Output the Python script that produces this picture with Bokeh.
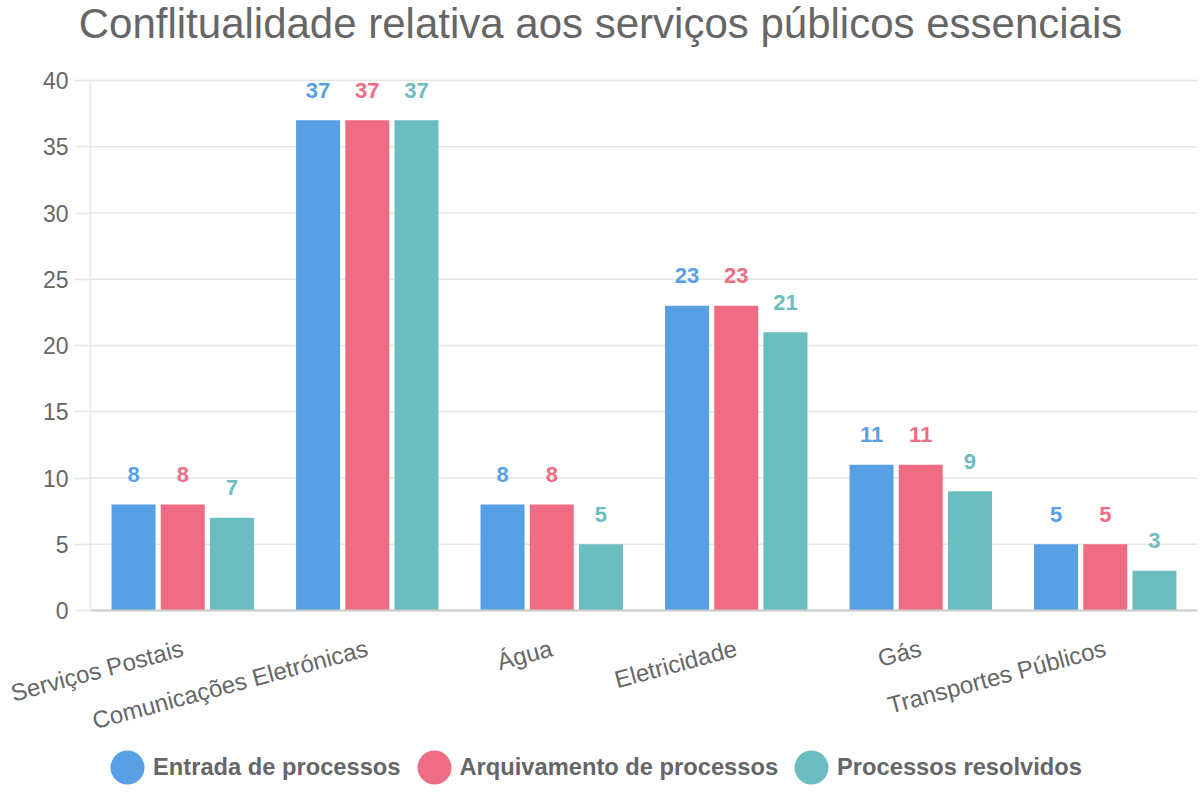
from bokeh.plotting import figure
from bokeh.models import (ColumnDataSource, Range1d, FixedTicker, Legend, LegendItem, Label,
                          LinearAxis)
from bokeh.transform import dodge
from bokeh.core.properties import value
from bokeh.embed import file_html
from bokeh.resources import INLINE
import math

title_text = "Conflitualidade relativa aos serviços públicos essenciais"
categories = ["Serviços Postais", "Comunicações Eletrónicas", "Água",
              "Eletricidade", "Gás", "Transportes Públicos"]
entrada = [8, 37, 8, 23, 11, 5]
arquivamento = [8, 37, 8, 23, 11, 5]
resolvidos = [7, 37, 5, 21, 9, 3]
series_names = ["Entrada de processos", "Arquivamento de processos", "Processos resolvidos"]
colors = ["#57A0E5", "#EE6D85", "#6CBDBF"]
y_ticks = [0, 5, 10, 15, 20, 25, 30, 35, 40]

FONT = "Liberation Sans"
GREY = "#666666"
GRID = "#e6e6e6"
W, H = 1200, 800
# pixel box of the plotting area inside the canvas
AX_L, AX_R, AX_T, AX_B = 90, 1197, 80, 610
n = len(categories)
YMAX = y_ticks[-1]
cat_px = (AX_R - AX_L) / n
px_per_unit = (AX_B - AX_T) / YMAX

x_range = Range1d(-AX_L / cat_px, n + (W - AX_R) / cat_px)
y_range = Range1d(-(H - AX_B) / px_per_unit, YMAX + AX_T / px_per_unit)

p = figure(width=W, height=H, x_range=x_range, y_range=y_range,
           output_backend="svg", toolbar_location=None, title=None,
           x_axis_location=None, y_axis_location=None,
           min_border=0, min_border_left=0, min_border_right=0, min_border_top=0, min_border_bottom=0)
p.outline_line_color = None
p.background_fill_color = "white"
p.xgrid.visible = False
p.ygrid.visible = False

xc = [i + 0.5 for i in range(n)]
src = ColumnDataSource(dict(xc=xc, cat=categories, s0=entrada, s1=arquivamento, s2=resolvidos,
                            t0=[str(v) for v in entrada], t1=[str(v) for v in arquivamento],
                            t2=[str(v) for v in resolvidos]))

# horizontal grid lines at the value ticks
p.segment(x0=0, x1=n, y0=y_ticks, y1=y_ticks, line_color=GRID, line_width=1.5)

offsets = [-0.2667, 0.0, 0.2667]
for i in range(3):
    xd = dodge("xc", offsets[i], range=p.x_range)
    p.vbar(x=xd, top="s%d" % i, width=0.2385, source=src, fill_color=colors[i], line_color=None)
    p.text(x=xd, y="s%d" % i, text="t%d" % i, source=src, text_align="center",
           text_baseline="middle", y_offset=-30, text_color=colors[i],
           text_font=value(FONT), text_font_size="22px", text_font_style="bold")

# value axis
yaxis = LinearAxis(fixed_location=0, bounds=(0, YMAX), ticker=FixedTicker(ticks=y_ticks))
yaxis.minor_tick_line_color = None
yaxis.major_tick_out = 16
yaxis.major_tick_in = 0
yaxis.major_tick_line_color = GRID
yaxis.major_tick_line_width = 1.5
yaxis.axis_line_color = GRID
yaxis.axis_line_width = 1.5
yaxis.major_label_text_font = FONT
yaxis.major_label_text_font_size = "23px"
yaxis.major_label_text_color = GREY
yaxis.major_label_standoff = 6
p.add_layout(yaxis, "left")

# category axis
xaxis = LinearAxis(fixed_location=0, bounds=(0, n), ticker=FixedTicker(ticks=xc),
                   major_label_overrides={x: c for x, c in zip(xc, categories)})
xaxis.minor_tick_line_color = None
xaxis.major_tick_line_color = None
xaxis.major_tick_out = 0
xaxis.major_tick_in = 0
xaxis.axis_line_color = "#cccccc"
xaxis.axis_line_width = 2
xaxis.major_label_orientation = 15 * math.pi / 180
xaxis.major_label_text_font = FONT
xaxis.major_label_text_font_size = "24px"
xaxis.major_label_text_color = GREY
xaxis.major_label_standoff = 37
p.add_layout(xaxis, "below")

# title
p.add_layout(Label(x=W / 2, y=H - 23, x_units="screen", y_units="screen", text=title_text,
                   text_align="center", text_baseline="middle", text_font=FONT,
                   text_font_size="42px", text_color=GREY))

# legend
items = [LegendItem(label=series_names[i], renderers=[
    p.scatter(x=[float("nan")], y=[float("nan")], size=20, marker="circle",
              fill_color=colors[i], line_color=colors[i], line_width=14)]) for i in range(3)]
legend = Legend(items=items, orientation="horizontal", location=(102, 8),
                glyph_width=50, glyph_height=50, label_standoff=1, spacing=8,
                padding=0, margin=0, border_line_color=None, background_fill_alpha=0,
                label_text_font=FONT, label_text_font_size="23.7px", label_text_font_style="bold",
                label_text_color=GREY)
p.add_layout(legend, "center")

open("out.html", "w").write(file_html(p, INLINE))
